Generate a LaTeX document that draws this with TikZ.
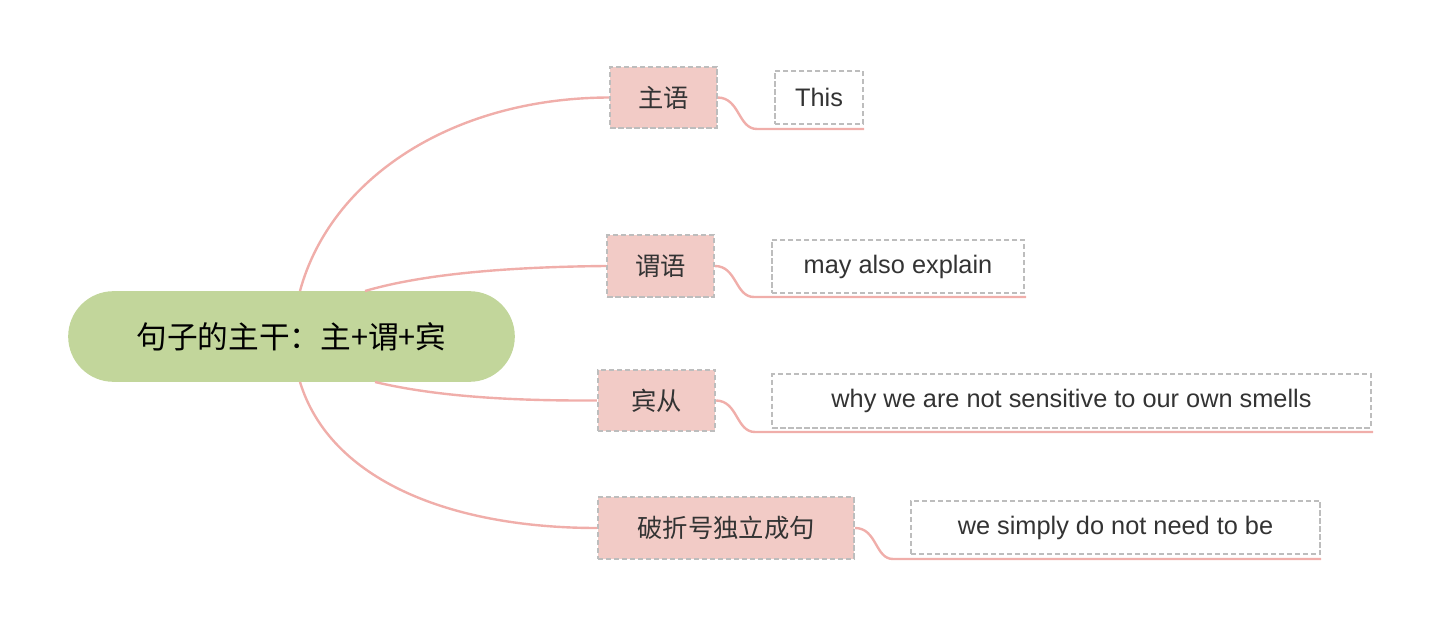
\documentclass[tikz,border=0pt]{standalone}
\usepackage{fontspec}
\setmainfont{Liberation Sans}
\newfontfamily\cjk{Noto Sans CJK SC}
\definecolor{rootg}{HTML}{C2D69B}
\definecolor{branchp}{HTML}{F2CBC6}
\definecolor{linep}{HTML}{F0AEAA}
\definecolor{dashg}{HTML}{BDBDBD}
\definecolor{txt}{HTML}{333333}
\begin{document}
\begin{tikzpicture}[x=0.75pt,y=-0.75pt,
 root/.style={fill=rootg,rounded corners=34pt,minimum width=335pt,minimum height=68pt,font=\cjk\fontsize{23}{26}\selectfont,inner sep=0},
 br/.style={fill=branchp,draw=dashg,dashed,line width=1.5pt,dash pattern=on 4pt off 2pt,font=\cjk\fontsize{19}{22}\selectfont,text=txt,minimum height=46pt,inner sep=0},
 lf/.style={draw=dashg,line width=1.5pt,dash pattern=on 4pt off 2pt,font=\fontsize{19}{22}\selectfont,text=txt,minimum height=40pt,inner sep=0},
 con/.style={draw=linep,line width=1.8pt}]
\useasboundingbox (0,0) rectangle (1440,627);
\node[root] (r) at (291.5,336.5) {句子的主干：主+谓+宾};
\node[br,minimum width=80pt] (b1) at (663.5,97.5) {主语};
\node[br,minimum width=80pt] (b2) at (660.5,266) {谓语};
\node[br,minimum width=88pt] (b3) at (656.5,400.5) {宾从};
\node[br,minimum width=192pt] (b4) at (726,528) {破折号独立成句};
\node[lf,minimum width=66pt] (l1) at (819,97.5) {This};
\node[lf,minimum width=189pt] (l2) at (898,266.5) {may also explain};
\node[lf,minimum width=449pt] (l3) at (1071.5,401) {why we are not sensitive to our own smells};
\node[lf,minimum width=307pt] (l4) at (1115.5,527.5) {we simply do not need to be};
\coordinate (r1) at (300,291); \coordinate (r2) at (365,291);
\coordinate (r3) at (375,382); \coordinate (r4) at (300,382);
\draw[con] (r1) .. controls (330,180) and (450,98) .. (b1.west);
\draw[con] (r2) .. controls (420,275) and (500,267) .. (b2.west);
\draw[con] (r3) .. controls (430,395) and (500,401) .. (b3.west);
\draw[con] (r4) .. controls (330,480) and (450,528) .. (b4.west);
\coordinate (u1a) at (757,129); \coordinate (u1b) at (864,129);
\coordinate (u2a) at (754,297); \coordinate (u2b) at (1026,297);
\coordinate (u3a) at (755,432); \coordinate (u3b) at (1373,432);
\coordinate (u4a) at (893,559); \coordinate (u4b) at (1321,559);
\draw[con] (b1.east) .. controls (740,98) and (738,129) .. (u1a) -- (u1b);
\draw[con] (b2.east) .. controls (737,266) and (735,297) .. (u2a) -- (u2b);
\draw[con] (b3.east) .. controls (738,401) and (736,432) .. (u3a) -- (u3b);
\draw[con] (b4.east) .. controls (877,528) and (875,559) .. (u4a) -- (u4b);
\end{tikzpicture}
\end{document}
